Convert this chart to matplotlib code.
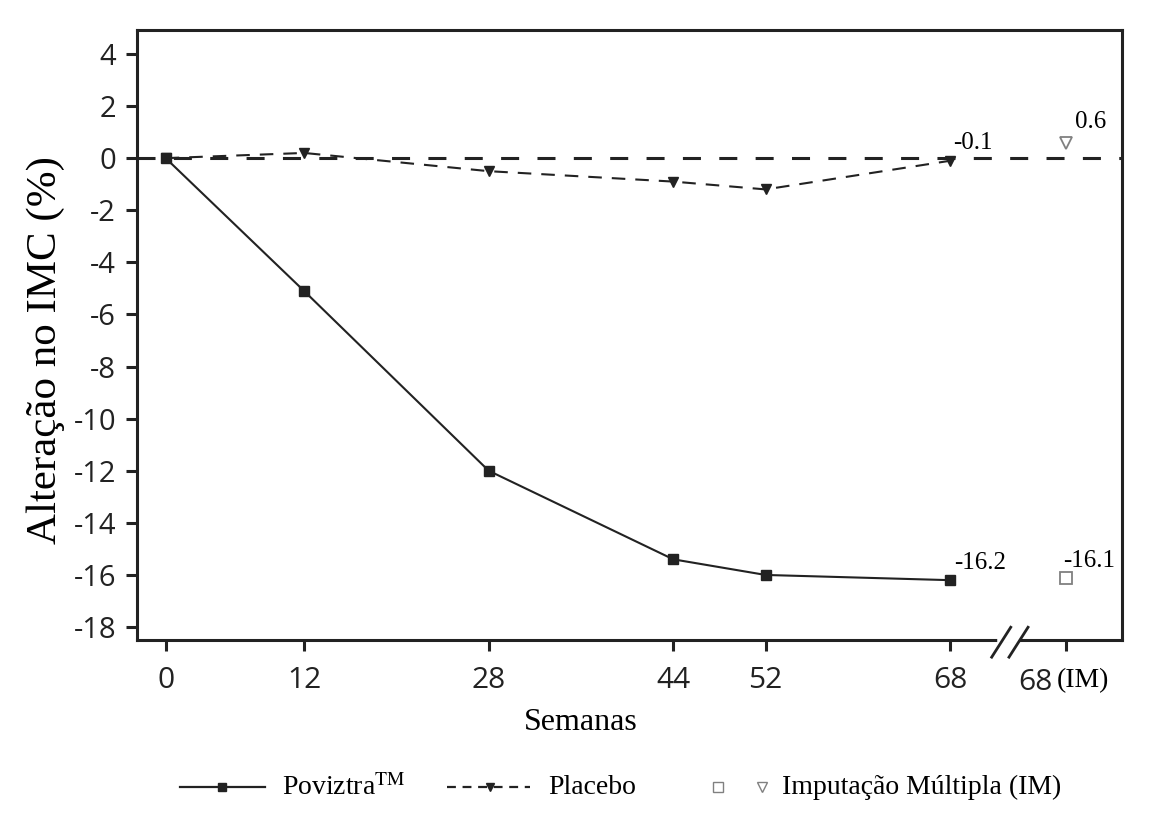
import matplotlib
matplotlib.use("Agg")
import matplotlib.pyplot as plt
from matplotlib.lines import Line2D

# data
weeks = [0, 12, 28, 44, 52, 68]
poviztra = [0.0, -5.1, -12.0, -15.4, -16.0, -16.2]
placebo = [0.0, 0.2, -0.5, -0.9, -1.2, -0.1]
im_week = 78.0          # position of the "68 (IM)" column after the axis break
im_poviztra = -16.1
im_placebo = 0.6
xtick_pos = weeks + [im_week]
xtick_labels = ["0", "12", "28", "44", "52", "68", ""]
yticks = list(range(4, -19, -2))

plt.rcParams["mathtext.fontset"] = "stix"
serif = ["Liberation Serif", "DejaVu Serif"]
sans = ["Open Sans", "DejaVu Sans"]
ink = "#222222"
grey = "#808080"

fig = plt.figure(figsize=(11.5, 8.4), dpi=100)
ax = fig.add_axes([0.119, 0.238, 0.8567, 0.726])

ax.axhline(0, color=ink, lw=2.2, dashes=(5.9, 6.0), zorder=1)
ax.plot(weeks, placebo, color=ink, lw=1.5, dashes=(6.5, 4.8), marker="v",
        ms=7.5, zorder=2)
ax.plot(weeks, poviztra, color=ink, lw=1.5, marker="s", ms=7.5, zorder=3)
ax.plot([im_week], [im_poviztra], ls="none", marker="s", ms=8.5, mfc="white",
        mec=grey, mew=1.3)
ax.plot([im_week], [im_placebo], ls="none", marker="v", ms=8.5, mfc="white",
        mec=grey, mew=1.3)

ax.text(weeks[-1] + 0.35, poviztra[-1] + 0.65, "-16.2", family=serif,
        fontsize=18, va="center")
ax.text(im_week - 0.2, im_poviztra + 0.65, "-16.1", family=serif,
        fontsize=18, va="center")
ax.text(weeks[-1] + 0.3, placebo[-1] + 0.7, "-0.1", family=serif,
        fontsize=18, va="center")
ax.text(im_week + 0.8, im_placebo + 0.8, "0.6", family=serif,
        fontsize=18, va="center")

ax.set_xlim(-2.5, 82.9)
ax.set_ylim(-18.5, 4.91)
ax.set_xticks(xtick_pos)
ax.set_xticklabels(xtick_labels, family=sans, fontsize=21.5, color=ink)
ax.set_yticks(yticks)
ax.set_yticklabels([str(v) for v in yticks], family=sans, fontsize=21,
                   color=ink)
ax.tick_params(direction="out", length=8, width=2.2, color=ink)
ax.tick_params(axis="x", pad=11)
ax.tick_params(axis="y", pad=7)
for s in ax.spines.values():
    s.set_linewidth(2.2)
    s.set_color(ink)

# "68 (IM)" label under the column after the break
tr = ax.get_xaxis_transform()
ax.text(im_week - 1.1, -0.046, "68", transform=tr, family=sans,
        fontsize=21.5, color=ink, ha="right", va="top")
ax.text(im_week - 0.8, -0.046, "(IM)", transform=tr, family=serif,
        fontsize=20, ha="left", va="top")

# axis break marks
ax.plot([72.3, 73.8], [0.0, 0.0], transform=tr, color="white", lw=4,
        clip_on=False, zorder=5)
for x0 in (71.6, 73.1):
    ax.plot([x0, x0 + 1.65], [-0.028, 0.021], transform=tr, color=ink,
            lw=2, clip_on=False, zorder=6)

ax.set_xlabel("Semanas", family=serif, fontsize=23)
ax.xaxis.set_label_coords(0.451, -0.112)
ax.set_ylabel("Alteração no IMC (%)", family=serif, fontsize=31)
ax.yaxis.set_label_coords(-0.073, 0.475)

# legend, drawn by hand in figure coordinates
ly = 0.063
fig.add_artist(Line2D([180 / 1150, 265 / 1150], [ly, ly], color=ink, lw=1.6))
fig.add_artist(Line2D([222 / 1150], [ly], color=ink, marker="s", ms=6))
fig.text(282 / 1150, ly, "Poviztra$^{\\mathrm{TM}}$", family=serif,
         fontsize=20, va="center")
fig.add_artist(Line2D([447 / 1150, 530 / 1150], [ly, ly], color=ink, lw=1.6,
                      dashes=(4, 3)))
fig.add_artist(Line2D([490 / 1150], [ly], color=ink, marker="v", ms=6))
fig.text(548 / 1150, ly, "Placebo", family=serif, fontsize=20, va="center")
fig.add_artist(Line2D([718 / 1150], [ly], ls="none", marker="s", ms=7,
                      mfc="white", mec=grey))
fig.add_artist(Line2D([762 / 1150], [ly], ls="none", marker="v", ms=7,
                      mfc="white", mec=grey))
fig.text(782 / 1150, ly, "Imputação Múltipla (IM)", family=serif,
         fontsize=20, va="center")

fig.savefig("out.png", dpi=100, facecolor="white")
